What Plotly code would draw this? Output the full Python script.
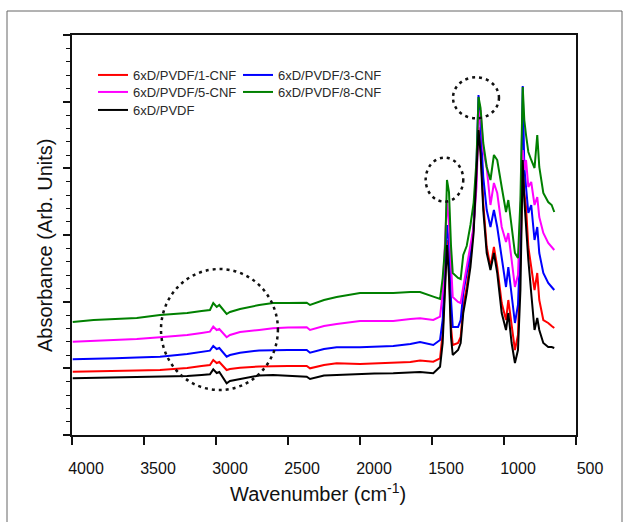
import plotly.graph_objects as go

# ---------------- data ----------------
WAVENUMBER = [3995, 3850, 3700, 3550, 3389, 3200, 3100, 3042, 3019, 2995, 2977, 2949, 2926, 2903,
              2833, 2700, 2604, 2500, 2370, 2347, 2250, 2162, 2000, 1900, 1769, 1650, 1583,
              1491, 1444, 1426, 1408, 1396, 1382, 1368, 1356, 1319, 1301, 1283, 1259, 1233, 1211,
              1191, 1177, 1163, 1144, 1120, 1094, 1070, 1047, 1016, 986, 970, 947, 924, 903, 886,
              870, 859, 847, 831, 811, 788, 769, 755, 727, 693, 669, 651]

CNF1 = [0.95, 0.953, 0.96, 0.968, 0.975, 1.005, 1.035, 1.05, 1.125, 1.08, 1.095, 1.02, 0.975, 0.99,
        1.01, 1.028, 1.035, 1.035, 1.035, 1.0, 1.05, 1.075, 1.065, 1.073, 1.075, 1.095, 1.118,
        1.10, 1.15, 1.53, 2.37, 2.925, 2.52, 1.62, 1.35, 1.38, 1.47, 1.92, 2.22, 2.625, 3.12,
        3.945, 4.62, 4.32, 3.48, 2.82, 2.52, 2.82, 2.52, 1.98, 1.725, 2.025, 1.62, 1.275, 1.50, 2.625,
        4.125, 3.63, 3.42, 2.82, 2.52, 2.175, 2.43, 2.025, 1.725, 1.68, 1.635, 1.605]

CNF3 = [1.136, 1.14, 1.15, 1.163, 1.175, 1.215, 1.245, 1.265, 1.335, 1.29, 1.305, 1.23, 1.175, 1.20,
        1.235, 1.268, 1.275, 1.275, 1.275, 1.235, 1.29, 1.316, 1.316, 1.328, 1.335, 1.365, 1.395,
        1.35, 1.425, 1.725, 2.52, 3.15, 2.88, 2.025, 1.62, 1.62, 1.725, 2.13, 2.43, 2.715, 3.12,
        4.05, 5.10, 4.65, 3.87, 3.375, 3.12, 3.375, 3.12, 2.625, 2.22, 2.52, 2.13, 1.68, 1.95, 2.925,
        5.235, 4.02, 3.72, 3.33, 3.45, 2.925, 3.12, 2.73, 2.43, 2.28, 2.22, 2.175]

CNF5 = [1.40, 1.41, 1.425, 1.44, 1.466, 1.50, 1.53, 1.55, 1.625, 1.575, 1.59, 1.515, 1.466, 1.50,
        1.545, 1.575, 1.60, 1.613, 1.616, 1.575, 1.635, 1.665, 1.71, 1.71, 1.71, 1.74, 1.75,
        1.725, 1.775, 2.13, 2.88, 3.525, 3.15, 2.475, 2.07, 1.995, 1.98, 2.22, 2.52, 2.82, 3.12,
        3.72, 4.65, 4.875, 4.275, 4.005, 3.45, 3.78, 3.63, 3.12, 2.895, 3.03, 2.625, 2.22, 2.40, 3.375,
        4.275, 3.975, 4.125, 3.72, 3.795, 3.45, 3.57, 3.27, 3.03, 2.88, 2.82, 2.775]

CNF8 = [1.695, 1.725, 1.74, 1.755, 1.80, 1.83, 1.86, 1.875, 1.98, 1.92, 1.95, 1.875, 1.815, 1.845,
        1.89, 1.95, 1.98, 1.98, 1.985, 1.95, 2.025, 2.07, 2.13, 2.13, 2.13, 2.145, 2.145,
        2.075, 2.04, 2.355, 2.85, 3.825, 3.645, 2.835, 2.43, 2.355, 2.34, 2.70, 2.835, 3.15, 3.48,
        4.125, 5.07, 4.905, 4.38, 4.02, 3.825, 4.20, 4.125, 3.72, 3.345, 3.525, 3.15, 2.73, 2.655, 3.525,
        5.22, 4.725, 4.50, 4.245, 4.125, 4.005, 4.50, 4.02, 3.63, 3.495, 3.45, 3.345]

PVDF = [0.85, 0.855, 0.863, 0.87, 0.875, 0.885, 0.90, 0.91, 0.985, 0.93, 0.945, 0.84, 0.775, 0.81,
        0.835, 0.893, 0.90, 0.885, 0.875, 0.84, 0.893, 0.90, 0.915, 0.923, 0.925, 0.938, 0.945,
        0.925, 1.025, 1.38, 2.22, 2.85, 2.37, 1.47, 1.20, 1.275, 1.38, 1.83, 2.13, 2.52, 3.03,
        3.90, 4.575, 4.23, 3.375, 2.73, 2.475, 2.73, 2.43, 1.83, 1.575, 1.83, 1.38, 1.08, 1.275, 2.175,
        4.125, 3.525, 3.12, 2.625, 2.13, 1.575, 1.755, 1.575, 1.38, 1.32, 1.32, 1.305]

SERIES_NAMES = ["6xD/PVDF/1-CNF", "6xD/PVDF/3-CNF", "6xD/PVDF/5-CNF", "6xD/PVDF/8-CNF", "6xD/PVDF"]
SERIES_VALUES = [CNF1, CNF3, CNF5, CNF8, PVDF]
COLORS = ["#ff0000", "#0000ff", "#ff00ff", "#008000", "#000000"]
X_TICKS = [4000, 3500, 3000, 2500, 2000, 1500, 1000, 500]

# ---------------- figure ----------------
W, H = 625, 522
L, R, T, B = 72, 576, 35, 435  # plot area in pixels


def px_x(p):
    return (p - L) / (R - L)


def px_y(p):
    return (B - p) / (B - T)


FONT = "Arial, Liberation Sans, sans-serif"
fig = go.Figure()
legend_names = ["legend", "legend2", "legend3", "legend4", "legend5"]
for name, vals, col, lg in zip(SERIES_NAMES, SERIES_VALUES, COLORS, legend_names):
    fig.add_trace(go.Scatter(x=WAVENUMBER, y=vals, mode="lines", name=name,
                             line=dict(color=col, width=2), legend=lg))

legend_pos = [(93, 75), (238, 75), (93, 92), (238, 92), (93, 110)]
legend_layout = {}
for lg, (lx, ly) in zip(legend_names, legend_pos):
    legend_layout[lg] = dict(x=px_x(lx), y=px_y(ly), xanchor="left", yanchor="middle",
                             bgcolor="rgba(0,0,0,0)", borderwidth=0,
                             font=dict(family=FONT, size=13, color="#2a2a2a"),
                             itemwidth=30)

fig.update_layout(
    width=W, height=H, autosize=False,
    margin=dict(l=L, r=W - R, t=T, b=H - B),
    paper_bgcolor="white", plot_bgcolor="white",
    showlegend=True,
    **legend_layout,
)

fig.update_xaxes(range=[4000, 500], tickvals=X_TICKS, ticks="outside", ticklen=8, tickwidth=1.5,
                 tickcolor="#111", showline=True, linecolor="#111", linewidth=1.5, mirror=True,
                 showgrid=False, zeroline=False,
                 tickfont=dict(family=FONT, size=16, color="#111"),
                 ticklabelshift=-14, ticklabelstandoff=10)
fig.update_yaxes(range=[0, 6], dtick=1, ticks="outside", ticklen=7, tickwidth=1.5, tickcolor="#111",
                 showticklabels=False, showline=True, linecolor="#111", linewidth=1.5, mirror=True,
                 showgrid=False, zeroline=False,
                 minor=dict(dtick=0.2, ticks="outside", ticklen=4, tickwidth=1.2, tickcolor="#111"))

# axis titles
fig.add_annotation(text="Wavenumber (cm<sup>-1</sup>)", xref="paper", yref="paper",
                   x=px_x(318), y=px_y(492), xanchor="center", yanchor="middle", showarrow=False,
                   font=dict(family=FONT, size=20, color="#111"))
fig.add_annotation(text="Absorbance (Arb. Units)", xref="paper", yref="paper",
                   x=px_x(45), y=px_y(246), xanchor="center", yanchor="middle", showarrow=False,
                   textangle=-90, font=dict(family=FONT, size=20, color="#111"))

# dashed highlight circles (in data coordinates)
circles = [(3382, 2570, 0.675, 2.49), (1544, 1283, 3.50, 4.16), (1354, 1035, 4.75, 5.366)]
for x0, x1, y0, y1 in circles:
    fig.add_shape(type="circle", xref="x", yref="y", x0=x0, x1=x1, y0=y0, y1=y1,
                  line=dict(color="#111", width=2.5, dash="3px,4px"))

# outer frame
fig.add_shape(type="rect", xref="paper", yref="paper", x0=px_x(7), x1=px_x(622),
              y0=px_y(535), y1=px_y(11), line=dict(color="#666", width=1), layer="below")

fig.write_html("out.html")
